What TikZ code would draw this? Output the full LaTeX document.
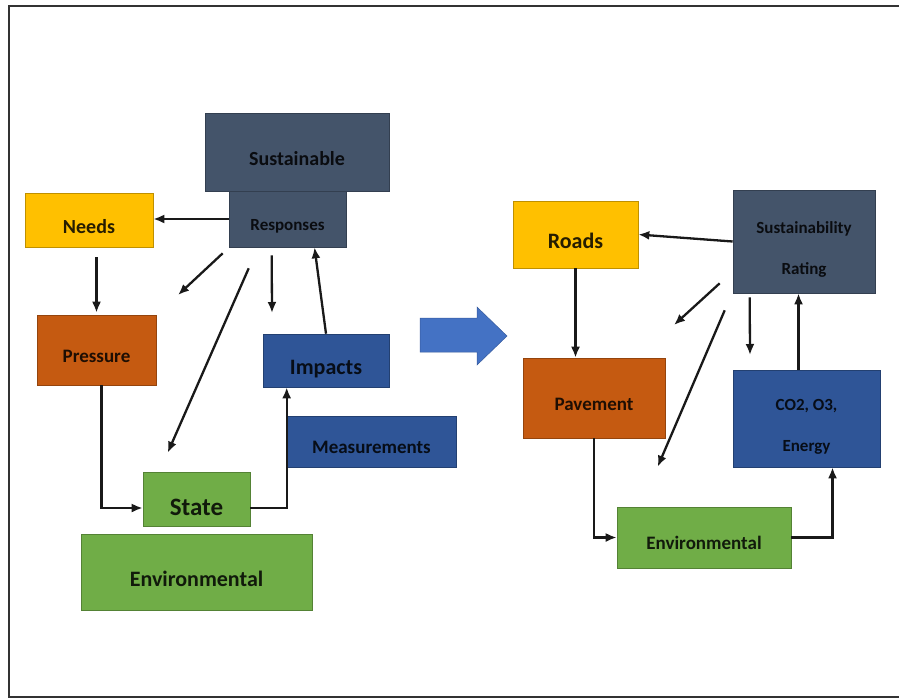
\documentclass[tikz,border=0pt]{standalone}
\usepackage{fontspec}
\setmainfont{Carlito}
\usetikzlibrary{calc,arrows.meta}

\definecolor{slate}{HTML}{44546A}
\definecolor{gold}{HTML}{FFC000}
\definecolor{rust}{HTML}{C55A11}
\definecolor{navy}{HTML}{2F5597}
\definecolor{leaf}{HTML}{70AD47}
\definecolor{arrowblue}{HTML}{4472C4}

\tikzset{
  box/.style={draw=#1!75!black, fill=#1, line width=0.6pt, inner sep=0pt,
    text=#1!15!black, align=center},
  fs/.style={font=\bfseries\fontsize{#1}{#1}\selectfont, text height={1.3*#1pt}, text depth=0pt},
  twoline/.style={font=\bfseries\fontsize{17}{41}\selectfont},
  arr/.style={-{Latex[length=11pt,width=9pt]}, line width=2.3pt, black!90}
}

\begin{document}
\begin{tikzpicture}[x=1pt,y=-1pt]
	\useasboundingbox (0,0) rectangle (899,699);
	\draw[line width=2pt, black!80] (899,6) -- (9,6) -- (9,697) -- (899,697);
	% left model
	\node[box=slate, fs=20, minimum width=184pt, minimum height=78pt] (sust) at (297,152) {Sustainable};
	\node[box=slate, fs=17, minimum width=117pt, minimum height=56pt] (resp) at (287.5,219) {Responses};
	\node[box=gold, fs=20, minimum width=128pt, minimum height=54pt] (needs) at (89,220) {Needs};
	\node[box=rust, fs=19, minimum width=119pt, minimum height=70pt] (press) at (96.5,350) {Pressure};
	\node[box=navy, fs=22, minimum width=126pt, minimum height=53pt] (imp) at (326,360.5) {Impacts};
	\node[box=navy, fs=19, minimum width=169pt, minimum height=51pt] (meas) at (371.5,441.5) {Measurements};
	\node[box=leaf, fs=25, minimum width=107pt, minimum height=54pt] (state) at (196.5,499) {State};
	\node[box=leaf, fs=22, minimum width=231pt, minimum height=76pt] (envl) at (196.5,572) {Environmental};
	\coordinate (f1) at (178,295);
	\coordinate (f2) at (272,313);
	\draw[arr] (resp.west) -- (needs.east |- resp.west);
	\draw[arr, shorten <=10pt, shorten >=2pt] (needs.south -| press.north) -- (press.north);
	\draw[arr] ($(resp.south west)+(-6,6)$) -- (f1);
	\draw[arr] ($(resp.south west)+(20,21)$) -- ($(state.north west)+(25,-19)$);
	\draw[arr] ($(resp.south west)+(43,8)$) -- (f2);
	\draw[arr] (imp.north) -- ($(resp.south)+(27,0)$);
	\draw[arr] ($(press.south)+(5,0)$) |- ($(state.west)+(0,9)$);
	\draw[arr] ($(state.east)+(0,9)$) -| ($(imp.south west)+(24,0)$);
	% big arrow
	\filldraw[fill=arrowblue, draw=arrowblue!80!black, line width=0.5pt] (420,318) -- (477,318) -- (477,307) -- (507,336) -- (477,365) -- (477,352) -- (420,352) -- cycle;
	% right model
	\node[box=gold, fs=22, minimum width=125pt, minimum height=67pt] (roads) at (575.5,234.5) {Roads};
	\node[box=slate, twoline, minimum width=142pt, minimum height=103pt] (rate) at (804,241.5) {\rule{0pt}{28pt}Sustainability\\Rating};
	\node[box=rust, fs=19, minimum width=142pt, minimum height=80pt] (pave) at (594,398) {Pavement};
	\node[box=navy, twoline, minimum width=147pt, minimum height=97pt] (co2) at (806.5,418.5) {\rule{0pt}{27pt}CO2, O3,\\Energy};
	\node[box=leaf, fs=19, minimum width=174pt, minimum height=61pt] (envr) at (704,537.5) {Environmental};
	\coordinate (f3) at (674,325);
	\coordinate (f4) at (750,355);
	\coordinate (c1) at ($(co2.north)+(-8,0)$);
	\draw[arr] (rate.west) -- (roads.east);
	\draw[arr] (roads.south) -- (roads.south |- pave.north);
	\draw[arr] ($(rate.south west)+(-13,-10)$) -- (f3);
	\draw[arr] ($(rate.south west)+(-8,17)$) -- ($(envr.north west)+(41,-40)$);
	\draw[arr] ($(rate.south west)+(17,4)$) -- (f4);
	\draw[arr] (c1) -- (c1 |- rate.south);
	\draw[arr] (pave.south) |- (envr.west);
	\draw[arr] (envr.east) -| ($(co2.south)+(26,0)$);
\end{tikzpicture}
\end{document}
